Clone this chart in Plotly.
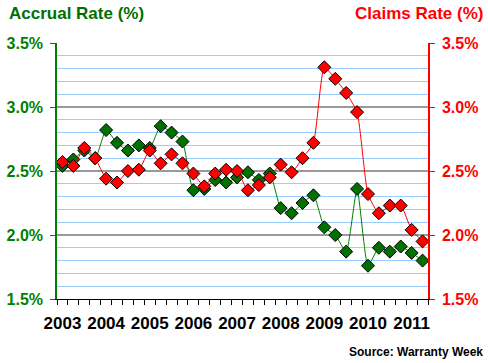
import plotly.graph_objects as go

years = ["2003", "2004", "2005", "2006", "2007", "2008", "2009", "2010", "2011"]
accrual = [2.54, 2.59, 2.66, 2.60, 2.82, 2.72, 2.66, 2.70, 2.68, 2.85, 2.80,
           2.73, 2.35, 2.36, 2.43, 2.41, 2.45, 2.49, 2.43, 2.48, 2.21, 2.17,
           2.25, 2.31, 2.06, 2.00, 1.87, 2.36, 1.76, 1.90, 1.87, 1.91, 1.86, 1.80]
claims = [2.57, 2.54, 2.68, 2.60, 2.44, 2.41, 2.50, 2.51, 2.66, 2.56, 2.63,
          2.56, 2.48, 2.38, 2.48, 2.51, 2.50, 2.35, 2.39, 2.45, 2.55, 2.49,
          2.60, 2.72, 3.31, 3.22, 3.11, 2.96, 2.32, 2.17, 2.23, 2.23, 2.04, 1.95]
y_ticks = [1.5, 2.0, 2.5, 3.0, 3.5]
y_labels = ["1.5%", "2.0%", "2.5%", "3.0%", "3.5%"]

W, H = 488, 363
ML, MR, MT, MB = 57, 60, 43, 64
PW = W - ML - MR
PH = H - MT - MB

n = len(accrual)
xs = list(range(n))
year_pos = [4 * i for i in range(len(years))]
bounds = [i - 0.5 for i in range(n + 1)]
xr = [-0.5, n - 0.5]
yr = [1.5, 3.5]

GREEN = "#008000"
DGREEN = "#007000"
RED = "#FF0000"
FONT = "Liberation Sans, Arial, sans-serif"

fig = go.Figure()
fig.add_trace(go.Scatter(
    x=xs, y=claims, yaxis="y2", mode="lines+markers",
    line=dict(color=RED, width=1, shape="spline", smoothing=0.5),
    marker=dict(symbol="diamond", size=10, color=RED, line=dict(color="black", width=1)),
    showlegend=False, hoverinfo="skip"))
fig.add_trace(go.Scatter(
    x=xs, y=accrual, yaxis="y", mode="lines+markers",
    line=dict(color=GREEN, width=1, shape="spline", smoothing=0.5),
    marker=dict(symbol="diamond", size=10, color=DGREEN, line=dict(color="black", width=1)),
    showlegend=False, hoverinfo="skip"))

fig.update_layout(
    width=W, height=H,
    margin=dict(l=ML, r=MR, t=MT, b=MB, autoexpand=False),
    paper_bgcolor="white", plot_bgcolor="white",
    font=dict(family=FONT),
    xaxis=dict(
        range=xr, tickmode="array", tickvals=year_pos, ticktext=years,
        ticks="", showgrid=False, zeroline=False, automargin=False,
        showline=True, linecolor="black", linewidth=1,
        tickfont=dict(family=FONT, size=17, color="black", weight="bold"),
        ticklabelstandoff=9,
        minor=dict(tickmode="array", tickvals=bounds, ticks="outside",
                   ticklen=5, tickcolor="black", tickwidth=1, showgrid=False),
    ),
    xaxis2=dict(
        range=xr, overlaying="x", side="bottom", tickmode="array", tickvals=bounds,
        ticks="inside", ticklen=4, tickcolor="black", showticklabels=False,
        showgrid=False, zeroline=False, showline=False, automargin=False,
    ),
    yaxis=dict(
        range=yr, tickmode="array", tickvals=y_ticks, ticktext=y_labels,
        ticks="outside", ticklen=5, tickcolor=GREEN, tickwidth=1,
        showline=True, linecolor=GREEN, linewidth=1.5, automargin=False,
        showgrid=True, gridcolor="#999999", gridwidth=1.5, zeroline=False,
        tickfont=dict(family=FONT, size=16, color=GREEN, weight="bold"),
        ticklabelstandoff=4,
        minor=dict(dtick=0.1, tick0=1.5, showgrid=True, gridcolor="#99CCFF",
                   gridwidth=1, ticks=""),
    ),
    yaxis2=dict(
        range=yr, overlaying="y", side="right", tickmode="array",
        tickvals=y_ticks, ticktext=y_labels, automargin=False,
        ticks="outside", ticklen=5, tickcolor=RED, tickwidth=1,
        showline=True, linecolor=RED, linewidth=1.5,
        showgrid=False, zeroline=False,
        tickfont=dict(family=FONT, size=16, color=RED, weight="bold"),
        ticklabelstandoff=4,
    ),
    yaxis3=dict(
        range=yr, overlaying="y", side="left", tickmode="array", tickvals=y_ticks,
        ticks="inside", ticklen=5, tickcolor=GREEN, showticklabels=False,
        showgrid=False, zeroline=False, showline=False, automargin=False,
    ),
    yaxis4=dict(
        range=yr, overlaying="y", side="right", tickmode="array", tickvals=y_ticks,
        ticks="inside", ticklen=5, tickcolor=RED, showticklabels=False,
        showgrid=False, zeroline=False, showline=False, automargin=False,
    ),
    annotations=[
        dict(text="<b>Accrual Rate (%)</b>", xref="paper", yref="paper",
             x=(7 - ML) / PW, y=1 + (MT - 13) / PH, xanchor="left", yanchor="middle",
             showarrow=False, font=dict(family=FONT, size=17, color=DGREEN)),
        dict(text="<b>Claims Rate (%)</b>", xref="paper", yref="paper",
             x=(485 - ML) / PW, y=1 + (MT - 13) / PH, xanchor="right", yanchor="middle",
             showarrow=False, font=dict(family=FONT, size=17, color=RED)),
        dict(text="<b>Source: Warranty Week</b>", xref="paper", yref="paper",
             x=(485 - ML) / PW, y=-(352 - MT - PH) / PH, xanchor="right", yanchor="middle",
             showarrow=False, font=dict(family=FONT, size=12, color="black")),
    ],
)

fig.write_html("out.html", config={"displayModeBar": False},
               post_script="document.body.style.margin='0';")
